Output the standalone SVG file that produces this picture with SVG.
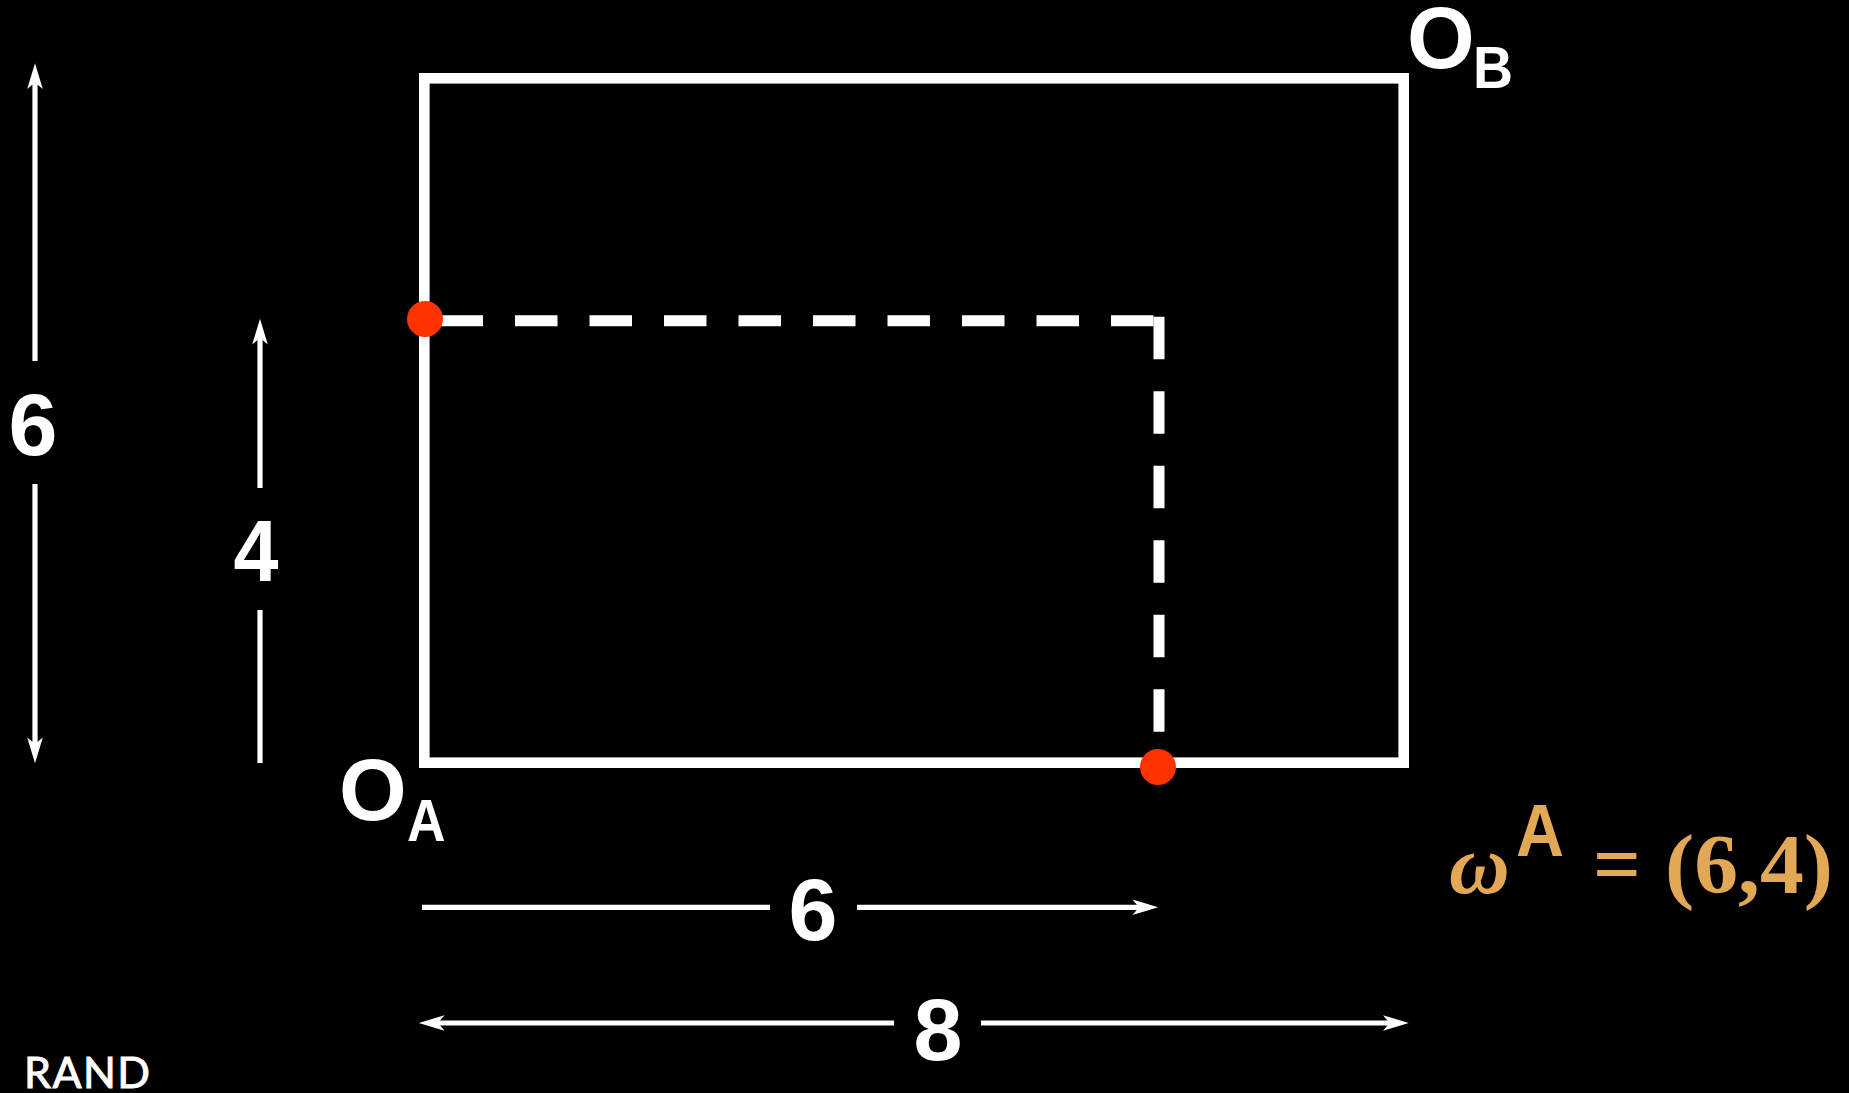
<svg xmlns="http://www.w3.org/2000/svg" width="1849" height="1093" viewBox="0 0 1849 1093">
<defs>
<style>
.lbl{font-family:"Liberation Sans",Arial,sans-serif;font-weight:700;fill:#fff}
.big{font-size:87px}
.num{font-size:88px}
.sub{font-size:60px}
.dim{stroke:#fff;stroke-width:5.2;fill:none}
.gold{fill:#e3a855}
.serif{font-family:"Liberation Serif","Times New Roman",serif;font-weight:700;font-size:84px}
.dash{stroke:#fff;stroke-width:11;fill:none;stroke-dasharray:42.5 32}
.dot{fill:#ff3300}
</style>
<marker id="head" markerUnits="userSpaceOnUse" markerWidth="26" markerHeight="16" refX="6.5" refY="8" orient="auto" overflow="visible">
<path d="M0 .2 L25.7 8 L0 15.8 L6.5 8Z" fill="#fff"/>
</marker>
</defs>
<rect id="background" width="1849" height="1093" fill="#000"/>
<g id="frame"><rect x="424.3" y="78.3" width="979.4" height="684.4" fill="none" stroke="#fff" stroke-width="10.6"/></g>
<g id="connectors">
<path class="dash" d="M440.5 320.8H1159"/>
<path class="dash" d="M1159 316.7V733"/>
<path class="dim" marker-end="url(#head)" d="M35 361V82.5"/>
<path class="dim" marker-end="url(#head)" d="M35 484V744"/>
<path class="dim" marker-end="url(#head)" d="M260 488V338"/>
<path class="dim" d="M260 610V763"/>
<path class="dim" d="M422 907.3H770"/>
<path class="dim" marker-end="url(#head)" d="M857 907.3H1139"/>
<path class="dim" marker-end="url(#head)" d="M894 1023H438"/>
<path class="dim" marker-end="url(#head)" d="M981 1023H1389.5"/>
</g>
<g id="point-left"><circle class="dot" cx="425" cy="319" r="18"/></g>
<g id="point-bottom"><circle class="dot" cx="1158" cy="767" r="18"/></g>
<g id="origin-b"><text class="lbl big" x="1407" y="67.5">O</text><text class="lbl sub" x="1473" y="88" textLength="40" lengthAdjust="spacingAndGlyphs">B</text></g>
<g id="origin-a"><text class="lbl big" x="339" y="819.5">O</text><text class="lbl sub" x="407" y="840.5" textLength="38.5" lengthAdjust="spacingAndGlyphs">A</text></g>
<g id="labels">
<text class="lbl num" x="8.5" y="455">6</text>
<text class="lbl num" x="233.5" y="580.5" textLength="45" lengthAdjust="spacingAndGlyphs">4</text>
<text class="lbl num" x="788.5" y="940">6</text>
<text class="lbl num" x="913.5" y="1060">8</text>
</g>
<g id="formula">
<text class="serif gold" x="1449" y="893" font-style="italic">ω</text>
<text class="lbl gold" x="1516" y="855.5" font-size="74" textLength="48" lengthAdjust="spacingAndGlyphs">A</text>
<text class="serif gold" x="1593" y="893" textLength="48" lengthAdjust="spacingAndGlyphs">=</text>
<text class="serif gold" x="1665" y="893" textLength="168" lengthAdjust="spacingAndGlyphs">(6,4)</text>
</g>
<g id="logo"><text x="24" y="1088" font-family="Lato,sans-serif" font-size="43" fill="#fff" stroke="#fff" stroke-width="1" textLength="126">RAND</text></g>
</svg>
